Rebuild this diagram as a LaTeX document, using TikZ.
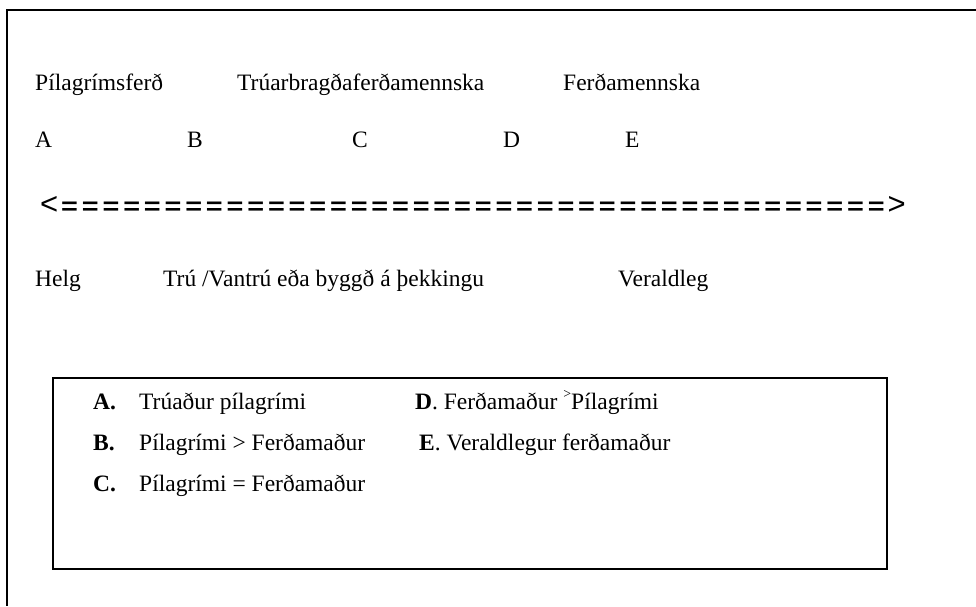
\documentclass[tikz,border=0pt]{standalone}
\usepackage{fontspec}
\setmainfont{Liberation Serif}
\newfontfamily\arrowfont{Liberation Sans}
\begin{document}
\begin{tikzpicture}[x=1pt,y=-1pt,
  lbl/.style={anchor=base west, inner sep=0pt, font=\fontsize{23.5}{28}\selectfont},
  frameline/.style={line width=1.6pt},
  boxline/.style={line width=1.8pt}]
\useasboundingbox (0,0) rectangle (976,606);
% outer frame (cropped)
\coordinate (ftop) at (976,10);
\coordinate (fcorner) at (7,10);
\coordinate (fbot) at (7,606);
\draw[frameline] (ftop) -- (fcorner) -- (fbot);
% top rows
\node[lbl] (p1) at (35,90.5) {Pílagrímsferð};
\node[lbl] (p2) at (237,90.5) {Trúarbragðaferðamennska};
\node[lbl] (p3) at (563,90.5) {Ferðamennska};
\node[lbl] (la) at (35,147.5) {A};
\node[lbl] (lb) at (187,147.5) {B};
\node[lbl] (lc) at (352,147.5) {C};
\node[lbl] (ld) at (503,147.5) {D};
\node[lbl] (le) at (625,147.5) {E};
% arrow made of text
\node[anchor=base west, inner sep=0pt] (arrow) at (40,214)
  {\arrowfont\fontsize{31}{32}\selectfont<\bfseries\fontsize{24}{28}\selectfont\makebox[1pt]{}\foreach \i in {1,...,40}{\makebox[20.68pt]{\scalebox{1.2}[1]{=}}}\makebox[1pt]{}\mdseries\fontsize{31}{32}\selectfont>};
% bottom scale labels
\node[lbl] (h1) at (35,286.5) {Helg};
\node[lbl] (h2) at (163,286.5) {Trú /Vantrú eða byggð á þekkingu};
\node[lbl] (h3) at (618,286.5) {Veraldleg};
% legend box
\node[draw, boxline, minimum width=834pt, minimum height=191pt, anchor=north west, inner sep=0pt] (legend) at (52,377) {};
\node[lbl] (ka) at (93,409.5) {\textbf{A.}};
\node[lbl] (ta) at (139,409.5) {Trúaður pílagrími};
\node[lbl] (kb) at (93,450.5) {\textbf{B.}};
\node[lbl] (tb) at (139,450.5) {Pílagrími > Ferðamaður};
\node[lbl] (kc) at (93,491.5) {\textbf{C.}};
\node[lbl] (tc) at (139,491.5) {Pílagrími = Ferðamaður};
\node[lbl] (td) at (415,409.5) {\textbf{D}. Ferðamaður \raisebox{0.45em}{\fontsize{14}{16}\selectfont >}Pílagrími};
\node[lbl] (te) at (419,450.5) {\textbf{E}. Veraldlegur ferðamaður};
\end{tikzpicture}
\end{document}
